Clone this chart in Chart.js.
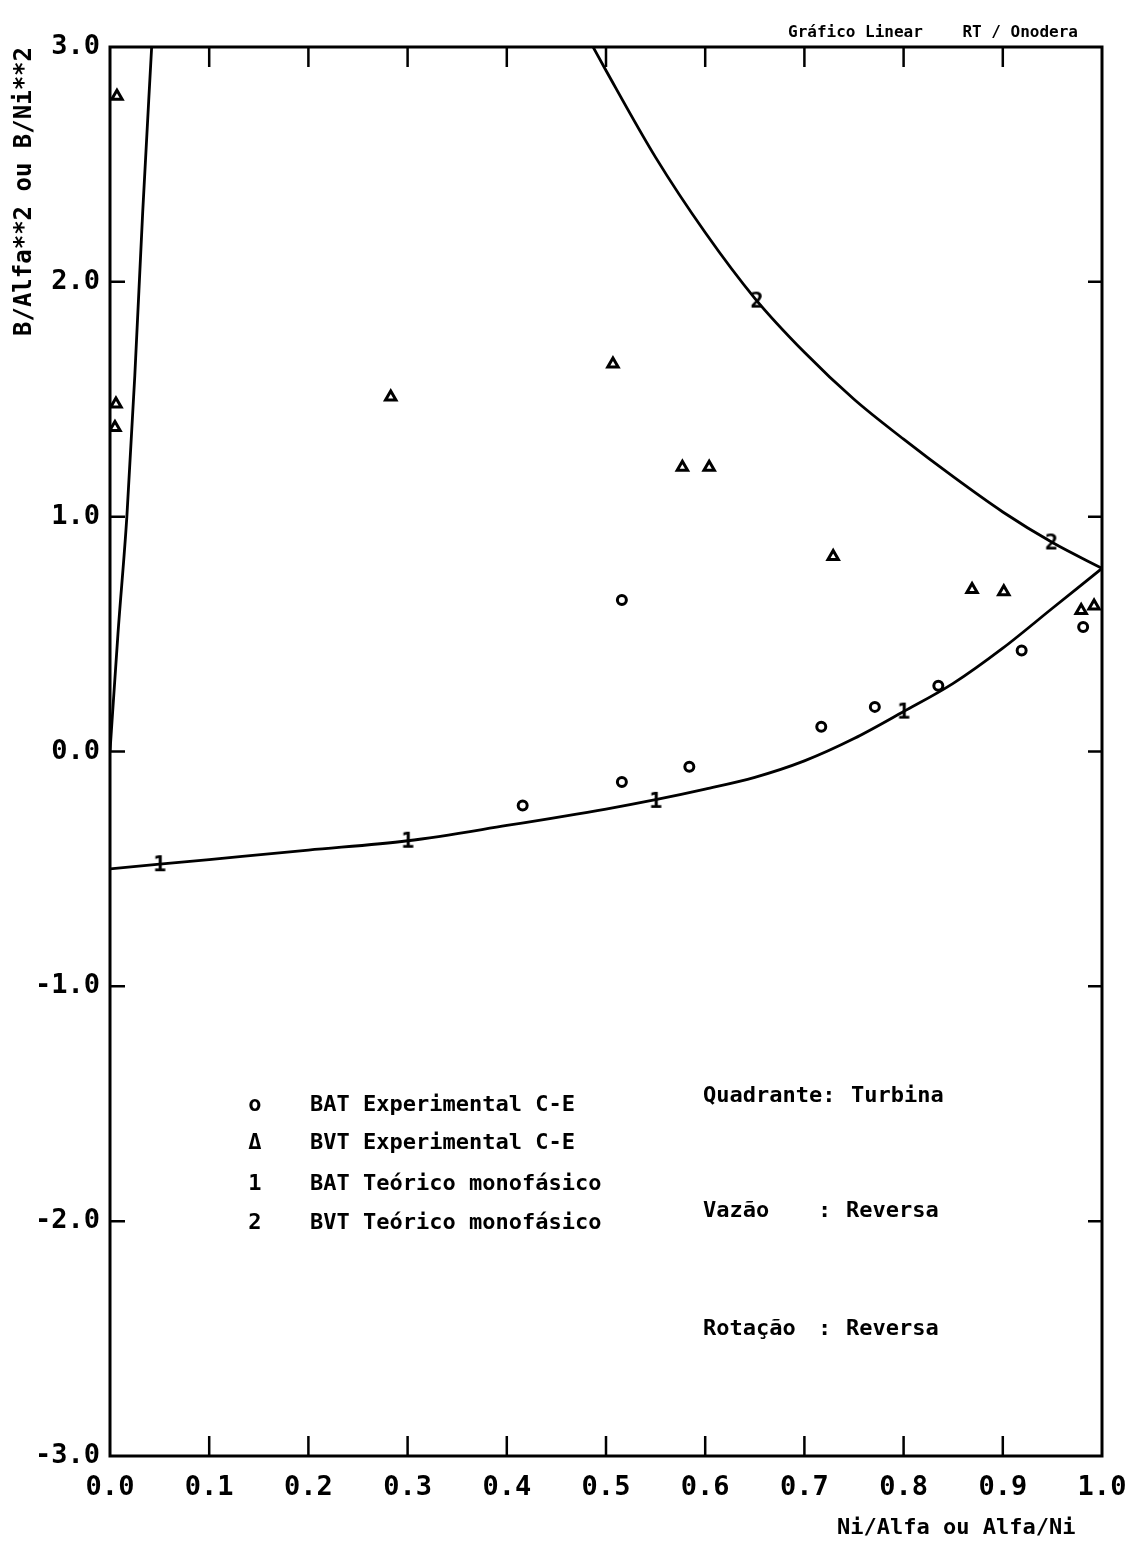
<!DOCTYPE html>
<html>
<head>
<meta charset="utf-8">
<script src="https://cdn.jsdelivr.net/npm/chart.js@4.4.1/dist/chart.umd.min.js"></script>
<style>
  body { margin: 0; background: #fff; }
  canvas { display: block; }
</style>
</head>
<body>
<canvas id="grafico" width="1130" height="1541"></canvas>
<script>
// ---- dados ----
const xTickValues = [0.0, 0.1, 0.2, 0.3, 0.4, 0.5, 0.6, 0.7, 0.8, 0.9, 1.0];
const yTickValues = [-3.0, -2.0, -1.0, 0.0, 1.0, 2.0, 3.0];

// BAT experimental C-E (circulos)
const batExpX = [0.416, 0.516, 0.584, 0.516, 0.717, 0.771, 0.835, 0.919, 0.981];
const batExpY = [-0.23, -0.13, -0.065, 0.645, 0.105, 0.19, 0.28, 0.43, 0.53];

// BVT experimental C-E (triangulos)
const bvtExpX = [0.007, 0.006, 0.005, 0.283, 0.507, 0.577, 0.604, 0.729, 0.869, 0.901, 0.979, 0.992];
const bvtExpY = [2.79, 1.48, 1.38, 1.51, 1.65, 1.21, 1.21, 0.83, 0.69, 0.68, 0.60, 0.62];

// BAT teorico monofasico (curva + marcas "1")
const batTeoX = [0.0, 0.05, 0.1, 0.2, 0.3, 0.4, 0.5, 0.55, 0.6, 0.65, 0.7, 0.75, 0.8, 0.85, 0.9, 0.95, 1.0];
const batTeoY = [-0.50, -0.48, -0.46, -0.42, -0.38, -0.315, -0.245, -0.205, -0.16, -0.11, -0.04, 0.055, 0.17, 0.29, 0.44, 0.61, 0.78];
const bat1MarkX = [0.05, 0.30, 0.55, 0.80];
const bat1MarkY = [-0.48, -0.38, -0.21, 0.17];

// BVT teorico monofasico (curva + marcas "2")
const bvtTeoX = [0.487, 0.5, 0.55, 0.6, 0.65, 0.7, 0.75, 0.8, 0.85, 0.9, 0.95, 1.0];
const bvtTeoY = [3.0, 2.9, 2.53, 2.21, 1.93, 1.70, 1.50, 1.33, 1.17, 1.02, 0.89, 0.78];
const bvt2MarkX = [0.652, 0.949];
const bvt2MarkY = [1.92, 0.89];

// ramo junto ao eixo (Alfa/Ni)
const ramoX = [0.0, 0.008, 0.017, 0.025, 0.033, 0.042];
const ramoY = [0.0, 0.5, 1.0, 1.6, 2.3, 3.0];

const legendItems = ['BAT Experimental C-E', 'BVT Experimental C-E', 'BAT Teórico monofásico', 'BVT Teórico monofásico'];
const legendGlyphs = ['o', 'Δ', '1', '2'];

const FONT = '"DejaVu Sans Mono", monospace';

function pairs(xs, ys) {
    return xs.map((x, i) => ({x: x, y: ys[i]}));
}

function glyphCanvas(txt) {
    const c = document.createElement('canvas');
    c.width = 20;
    c.height = 26;
    const g = c.getContext('2d');
    g.fillStyle = '#000';
    g.font = 'bold 22px ' + FONT;
    g.textAlign = 'center';
    g.textBaseline = 'middle';
    g.fillText(txt, 10, 14);
    return c;
}

const moldura = {
    id: 'moldura',
    beforeDraw(chart) {
        const ctx = chart.ctx;
        ctx.save();
        ctx.fillStyle = '#fff';
        ctx.fillRect(0, 0, chart.width, chart.height);
        ctx.restore();
    },
    afterDraw(chart) {
        const ctx = chart.ctx;
        const a = chart.chartArea;
        const xs = chart.scales.x;
        const ys = chart.scales.y;
        ctx.save();
        ctx.strokeStyle = '#000';
        ctx.lineWidth = 3;
        ctx.strokeRect(a.left, a.top, a.right - a.left, a.bottom - a.top);

        // marcas internas
        ctx.lineWidth = 2.5;
        ctx.beginPath();
        xTickValues.slice(1, -1).forEach(v => {
            const px = xs.getPixelForValue(v);
            ctx.moveTo(px, a.bottom);
            ctx.lineTo(px, a.bottom - 20);
            ctx.moveTo(px, a.top);
            ctx.lineTo(px, a.top + 20);
        });
        yTickValues.slice(1, -1).forEach(v => {
            const py = ys.getPixelForValue(v);
            ctx.moveTo(a.left, py);
            ctx.lineTo(a.left + 15, py);
            ctx.moveTo(a.right, py);
            ctx.lineTo(a.right - 14, py);
        });
        ctx.stroke();

        // legenda
        ctx.fillStyle = '#000';
        ctx.font = 'bold 22px ' + FONT;
        ctx.textBaseline = 'middle';
        const rows = [-1.506, -1.668, -1.843, -2.009];
        legendItems.forEach((txt, i) => {
            const py = ys.getPixelForValue(rows[i]);
            ctx.textAlign = 'center';
            ctx.fillText(legendGlyphs[i], xs.getPixelForValue(0.146), py);
            ctx.textAlign = 'left';
            ctx.fillText(txt, xs.getPixelForValue(0.2016), py);
        });

        // notas
        const notas = [
            ['Quadrante:', '', 'Turbina', -1.47],
            ['Vazão', ':', 'Reversa', -1.96],
            ['Rotação', ':', 'Reversa', -2.46]
        ];
        ctx.textAlign = 'left';
        notas.forEach(n => {
            const py = ys.getPixelForValue(n[3]);
            ctx.fillText(n[0], 703, py);
            if (n[1]) ctx.fillText(n[1], 818, py);
            ctx.fillText(n[2], n[1] ? 846 : 851, py);
        });

        // titulo
        ctx.font = 'bold 16px ' + FONT;
        ctx.textBaseline = 'alphabetic';
        ctx.textAlign = 'left';
        ctx.fillText('Gráfico Linear', 788, 37);
        ctx.textAlign = 'right';
        ctx.fillText('RT / Onodera', 1078, 37);
        ctx.restore();
    }
};

const curva = {
    showLine: true,
    borderColor: '#000',
    borderWidth: 2.8,
    pointRadius: 0,
    cubicInterpolationMode: 'monotone'
};

window.addEventListener('load', function () {
    new Chart(
        document.getElementById('grafico'),
        {
            type: 'scatter',
            data: {
                datasets: [
                    Object.assign({label: 'BAT Teórico monofásico', data: pairs(batTeoX, batTeoY)}, curva),
                    Object.assign({label: 'BVT Teórico monofásico', data: pairs(bvtTeoX, bvtTeoY)}, curva),
                    Object.assign({label: 'ramo', data: pairs(ramoX, ramoY)}, curva),
                    {
                        label: 'BAT Experimental C-E',
                        data: pairs(batExpX, batExpY),
                        pointStyle: 'circle',
                        pointRadius: 4.5,
                        borderWidth: 3,
                        borderColor: '#000',
                        backgroundColor: '#fff'
                    },
                    {
                        label: 'BVT Experimental C-E',
                        data: pairs(bvtExpX, bvtExpY),
                        pointStyle: 'triangle',
                        pointRadius: 6,
                        borderWidth: 3,
                        borderColor: '#000',
                        backgroundColor: '#fff'
                    },
                    {
                        label: 'BAT marcas',
                        data: pairs(bat1MarkX, bat1MarkY),
                        pointStyle: glyphCanvas('1')
                    },
                    {
                        label: 'BVT marcas',
                        data: pairs(bvt2MarkX, bvt2MarkY),
                        pointStyle: glyphCanvas('2')
                    }
                ]
            },
            options: {
                responsive: false,
                devicePixelRatio: 1,
                animation: false,
                layout: {
                    padding: {top: 47, right: 28, left: 0, bottom: 0}
                },
                plugins: {
                    legend: {display: false},
                    tooltip: {enabled: false}
                },
                scales: {
                    x: {
                        type: 'linear',
                        min: 0,
                        max: 1,
                        afterBuildTicks: s => { s.ticks = xTickValues.map(v => ({value: v})); },
                        afterFit: s => { s.height = 85; s.paddingLeft = 0; s.paddingRight = 0; },
                        grid: {display: false, drawTicks: false},
                        border: {display: false},
                        ticks: {
                            color: '#000',
                            padding: 16,
                            maxRotation: 0,
                            font: {family: FONT, size: 27, weight: 'bold'},
                            callback: v => v.toFixed(1)
                        },
                        title: {
                            display: true,
                            align: 'end',
                            text: 'Ni/Alfa ou Alfa/Ni  ',
                            color: '#000',
                            padding: {top: 0, bottom: 0},
                            font: {family: FONT, size: 22, weight: 'bold'}
                        }
                    },
                    y: {
                        type: 'linear',
                        min: -3,
                        max: 3,
                        afterBuildTicks: s => { s.ticks = yTickValues.map(v => ({value: v})); },
                        afterFit: s => { s.width = 110; s.paddingTop = 0; s.paddingBottom = 0; },
                        grid: {display: false, drawTicks: false},
                        border: {display: false},
                        ticks: {
                            color: '#000',
                            padding: 10,
                            font: {family: FONT, size: 27, weight: 'bold'},
                            callback: v => v.toFixed(1)
                        },
                        title: {
                            display: true,
                            align: 'end',
                            text: 'B/Alfa**2 ou B/Ni**2',
                            color: '#000',
                            padding: {top: 10, bottom: 0},
                            font: {family: FONT, size: 24, weight: 'bold'}
                        }
                    }
                }
            },
            plugins: [moldura]
        }
    );
});
</script>
</body>
</html>
